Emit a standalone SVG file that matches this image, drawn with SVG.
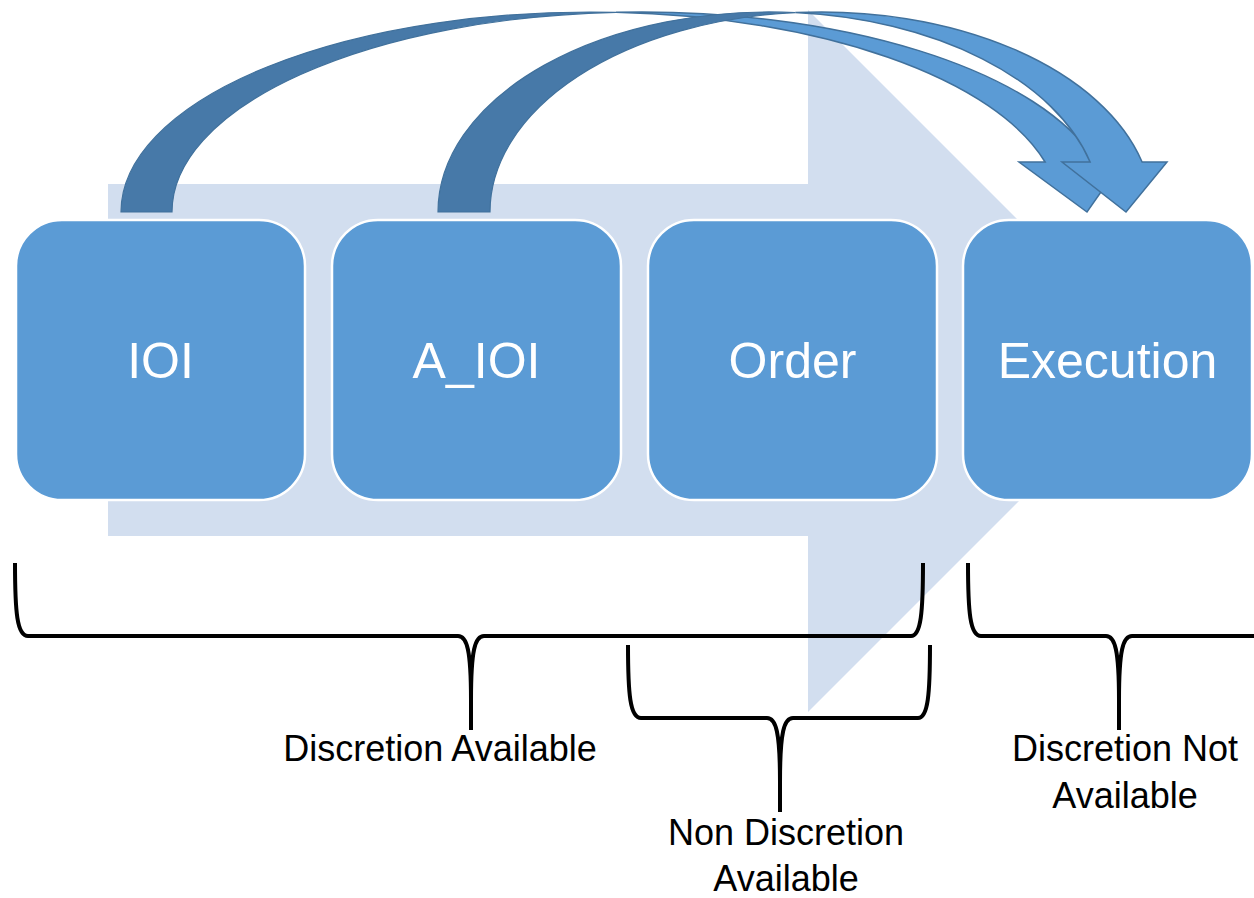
<svg xmlns="http://www.w3.org/2000/svg" width="1254" height="898" viewBox="0 0 1254 898">
  <style>
    .node rect { fill: #5B9BD5; stroke: #FFFFFF; stroke-width: 2.5; }
    .node text { fill: #FFFFFF; font-family: "Liberation Sans", Arial, sans-serif; font-size: 50px; text-anchor: middle; }
    .back { fill: #4779A8; stroke: #41719C; stroke-width: 1.2; }
    .front { fill: #5B9BD5; stroke: #41719C; stroke-width: 1.5; stroke-linejoin: miter; }
    .brace { fill: none; stroke: #000000; stroke-width: 4; stroke-linecap: butt; stroke-linejoin: round; }
    .label { fill: #000000; font-family: "Liberation Sans", Arial, sans-serif; font-size: 36px; text-anchor: middle; }
  </style>

  <!-- wide process arrow behind the stages -->
  <path id="process-arrow" d="M108,184 L808,184 L808,10 L1159,361 L808,712 L808,536 L108,536 Z" fill="#D2DEEF"/>

  <!-- stages -->
  <g id="node-ioi" class="node">
    <rect x="16" y="220" width="289" height="280" rx="46" ry="46"/>
    <text x="160.5" y="378">IOI</text>
  </g>
  <g id="node-a-ioi" class="node">
    <rect x="332" y="220" width="289" height="280" rx="46" ry="46"/>
    <text x="476.5" y="378">A_IOI</text>
  </g>
  <g id="node-order" class="node">
    <rect x="648" y="220" width="289" height="280" rx="46" ry="46"/>
    <text x="792.5" y="378">Order</text>
  </g>
  <g id="node-execution" class="node">
    <rect x="963" y="220" width="289" height="280" rx="46" ry="46"/>
    <text x="1107.5" y="378">Execution</text>
  </g>

  <!-- curved jumps into Execution -->
  <g id="connectors">
    <g id="edge-ioi-execution">
      <path class="back" d="M121,212 A469.5,200 0 0,1 616,12.3 A469.5,200 0 0,0 172,212 Z"/>
      <path class="front" d="M616,12.3 A469.5,200 0 0,1 1096.1,162 L1122,162 L1087,212 L1019,162 L1045.1,162 A469.5,200 0 0,0 616,12.3 Z"/>
    </g>
    <g id="edge-a-ioi-execution">
      <path class="back" d="M438,212 A331.3,200 0 0,1 795.3,12.6 A331.3,200 0 0,0 490,212 Z"/>
      <path class="front" d="M795.3,12.6 A331.3,200 0 0,1 1142.1,162 L1167,162 L1126,212 L1062,162 L1090.1,162 A331.3,200 0 0,0 795.3,12.6 Z"/>
    </g>
  </g>

  <!-- braces and their captions -->
  <g id="brace-discretion-available">
    <path class="brace" d="M15,563 C15,612 17,636 28,636 L458,636 C467,636 471,650 471,700 L471,730 M471,700 C471,650 475,636 484,636 L911,636 C921,636 923,612 923,563"/>
    <text class="label" x="440" y="761">Discretion Available</text>
  </g>
  <g id="brace-non-discretion">
    <path class="brace" d="M628,645 C628,694 630,718 641,718 L767,718 C776,718 780,732 780,782 L780,812 M780,782 C780,732 784,718 793,718 L918,718 C928,718 930,694 930,645"/>
    <text class="label" x="786" y="845">Non Discretion</text>
    <text class="label" x="786" y="891">Available</text>
  </g>
  <g id="brace-discretion-not-available">
    <path class="brace" d="M968,563 C968,612 970,636 981,636 L1106,636 C1115,636 1119,650 1119,700 L1119,730 M1119,700 C1119,650 1123,636 1132,636 L1254,636"/>
    <text class="label" x="1125" y="761">Discretion Not</text>
    <text class="label" x="1125" y="808">Available</text>
  </g>
</svg>
